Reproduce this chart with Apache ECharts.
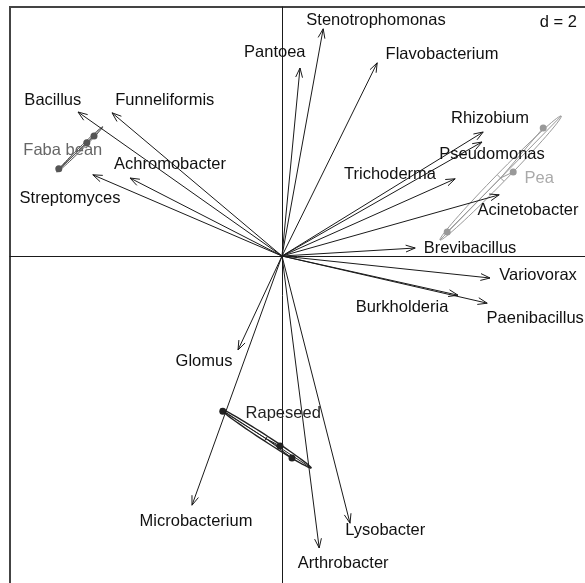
<!DOCTYPE html>
<html>
<head>
<meta charset="utf-8">
<script src="https://cdn.jsdelivr.net/npm/echarts@6/dist/echarts.min.js"></script>
<style>
  html, body { margin: 0; padding: 0; background: #fff; }
  #main { width: 585px; height: 583px; }
</style>
</head>
<body>
<div id="main"></div>
<script>
// arrow tips (ordination scores)
let taxa = ['Stenotrophomonas', 'Pantoea', 'Flavobacterium', 'Bacillus', 'Funneliformis',
    'Achromobacter', 'Streptomyces', 'Rhizobium', 'Pseudomonas', 'Trichoderma',
    'Acinetobacter', 'Brevibacillus', 'Variovorax', 'Burkholderia', 'Paenibacillus',
    'Glomus', 'Microbacterium', 'Arthrobacter', 'Lysobacter'];
let arrowX = [1.03, 0.45, 2.38, -5.10, -4.25, -3.80, -4.73, 5.03, 5.00, 4.33,
    5.43, 3.33, 5.20, 4.40, 5.13, -1.10, -2.25, 0.93, 1.70];
let arrowY = [5.68, 4.70, 4.83, 3.60, 3.58, 1.95, 2.03, 3.10, 2.85, 1.93,
    1.53, 0.20, -0.55, -0.98, -1.18, -2.35, -6.23, -7.30, -6.68];
// where each label sits
let labelX = [2.35, -0.18, 4.00, -5.73, -2.93, -2.80, -5.30, 5.20, 5.25, 2.70,
    6.15, 4.70, 6.40, 3.00, 6.33, -1.95, -2.15, 1.53, 2.58];
let labelY = [5.90, 5.10, 5.03, 3.90, 3.88, 2.28, 1.43, 3.43, 2.53, 2.05,
    1.13, 0.20, -0.48, -1.28, -1.55, -2.63, -6.63, -7.68, -6.85];

// groups (crops)
let groups = ['Faba bean', 'Pea', 'Rapeseed'];
let groupPtsX = [[-5.58, -4.88, -4.70], [4.13, 5.78, 6.53], [-1.48, -0.05, 0.25]];
let groupPtsY = [[2.18, 2.83, 3.00], [0.60, 2.10, 3.20], [-3.88, -4.75, -5.05]];
// ellipse major axis ends + half minor axis
let ellA = [[-5.63, 2.10], [3.95, 0.40], [-1.53, -3.83]];
let ellB = [[-4.48, 3.23], [6.98, 3.50], [0.73, -5.30]];
let ellMinor = [0.04, 0.12, 0.07];
let groupLabelX = [-5.48, 6.43, 0.03];
let groupLabelY = [2.65, 1.95, -3.93];

let groupColors = ['#555', '#999', '#222'];
let groupTextColors = ['#666', '#aaa', '#222'];
let fontFam = '"Liberation Sans", Arial, sans-serif';

var myChart = echarts.init(document.getElementById('main'));

function arrowItem(params, api) {
    let o = api.coord([0, 0]);
    let p = api.coord([api.value(0), api.value(1)]);
    let ang = Math.atan2(p[1] - o[1], p[0] - o[0]);
    let L = 10, a = Math.PI / 9;
    let h1 = [p[0] - L * Math.cos(ang - a), p[1] - L * Math.sin(ang - a)];
    let h2 = [p[0] - L * Math.cos(ang + a), p[1] - L * Math.sin(ang + a)];
    return {
        type: 'group',
        children: [
            { type: 'line', shape: { x1: o[0], y1: o[1], x2: p[0], y2: p[1] }, style: { stroke: '#1a1a1a', lineWidth: 1 } },
            { type: 'polyline', shape: { points: [h1, p, h2] }, style: { stroke: '#1a1a1a', fill: null, lineWidth: 1 } }
        ]
    };
}

function ellipseItem(params, api) {
    let i = params.dataIndex;
    let a = api.coord(ellA[i]);
    let b = api.coord(ellB[i]);
    let c = [(a[0] + b[0]) / 2, (a[1] + b[1]) / 2];
    let dx = (b[0] - a[0]) / 2, dy = (b[1] - a[1]) / 2;
    let len = Math.sqrt(dx * dx + dy * dy);
    let m0 = api.coord([0, 0]), m1 = api.coord([ellMinor[i], 0]);
    let r = Math.abs(m1[0] - m0[0]);
    let nx = -dy / len * r, ny = dx / len * r;
    let pts = [];
    for (let k = 0; k <= 72; k++) {
        let t = k / 72 * Math.PI * 2;
        pts.push([c[0] + dx * Math.cos(t) + nx * Math.sin(t), c[1] + dy * Math.cos(t) + ny * Math.sin(t)]);
    }
    let col = groupColors[i];
    let lw = i === 2 ? 1.4 : 1;
    let children = [
        { type: 'polyline', shape: { points: pts }, style: { stroke: col, fill: null, lineWidth: lw } },
        { type: 'line', shape: { x1: a[0], y1: a[1], x2: b[0], y2: b[1] }, style: { stroke: col, lineWidth: 1 } },
        { type: 'line', shape: { x1: c[0] - nx, y1: c[1] - ny, x2: c[0] + nx, y2: c[1] + ny }, style: { stroke: col, lineWidth: 1 } }
    ];
    groupPtsX[i].forEach((x, j) => {
        let q = api.coord([x, groupPtsY[i][j]]);
        children.push({ type: 'line', shape: { x1: c[0], y1: c[1], x2: q[0], y2: q[1] }, style: { stroke: col, lineWidth: 1 } });
        children.push({ type: 'circle', shape: { cx: q[0], cy: q[1], r: 3.5 }, style: { fill: col } });
    });
    return { type: 'group', children: children };
}

function textItem(names, colors) {
    return function (params, api) {
        let p = api.coord([api.value(0), api.value(1)]);
        return {
            type: 'text', x: p[0], y: p[1],
            style: {
                text: names[params.dataIndex], fill: colors ? colors[params.dataIndex] : '#111',
                fontSize: 16.5, fontFamily: fontFam, align: 'center', verticalAlign: 'middle'
            }
        };
    };
}

var option = {
    animation: false,
    backgroundColor: '#fff',
    grid: {
        left: 10, top: 7, width: 600, height: 600, outerBoundsMode: 'none',
        show: true, borderColor: '#444', borderWidth: 2, backgroundColor: 'transparent'
    },
    xAxis: {
        type: 'value', min: -6.8, max: 8.2,
        axisLine: { show: true, onZero: true, lineStyle: { color: '#1a1a1a', width: 1 } },
        axisTick: { show: false }, axisLabel: { show: false }, splitLine: { show: false }
    },
    yAxis: {
        type: 'value', min: -8.775, max: 6.225,
        axisLine: { show: true, onZero: true, lineStyle: { color: '#1a1a1a', width: 1 } },
        axisTick: { show: false }, axisLabel: { show: false }, splitLine: { show: false }
    },
    graphic: [
        { type: 'text', right: 8, top: 14, style: { text: 'd = 2', fontSize: 16.5, fontFamily: fontFam, fill: '#111' } }
    ],
    series: [
        { type: 'custom', renderItem: ellipseItem, data: groups.map((g, i) => [i]), z: 2 },
        { type: 'custom', renderItem: arrowItem, data: taxa.map((t, i) => [arrowX[i], arrowY[i]]), z: 3 },
        { type: 'custom', renderItem: textItem(taxa), data: taxa.map((t, i) => [labelX[i], labelY[i]]), z: 4 },
        { type: 'custom', renderItem: textItem(groups, groupTextColors), data: groups.map((g, i) => [groupLabelX[i], groupLabelY[i]]), z: 4 }
    ]
};

myChart.setOption(option);
</script>
</body>
</html>
